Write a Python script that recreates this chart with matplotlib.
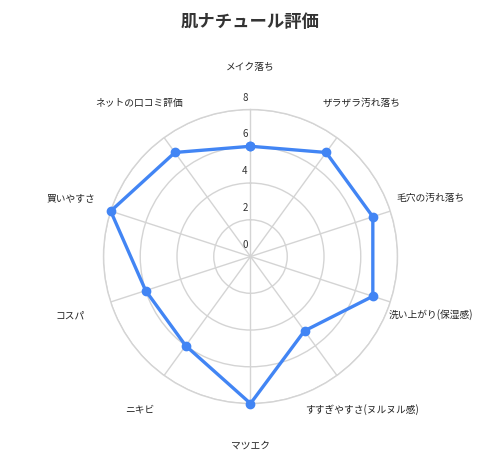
import numpy as np
import matplotlib
matplotlib.use("Agg")
import matplotlib.pyplot as plt

plt.rcParams['font.family'] = ['Noto Sans CJK JP', 'DejaVu Sans']

title = "肌ナチュール評価"
categories = ["メイク落ち", "ザラザラ汚れ落ち", "毛穴の汚れ落ち", "洗い上がり(保湿感)",
              "すすぎやすさ(ヌルヌル感)", "マツエク", "ニキビ", "コスパ",
              "買いやすさ", "ネットの口コミ評価"]
values = [6, 7, 7, 7, 5, 8, 6, 6, 8, 7]
rticks = [0, 2, 4, 6, 8]

fig = plt.figure(figsize=(5.0, 4.72), dpi=100)
ax = fig.add_axes([0.207, 0.145, 0.588, 0.623], projection='polar')
ax.set_theta_zero_location('N')
ax.set_theta_direction(-1)

n = len(categories)
angles = np.linspace(0, 2 * np.pi, n, endpoint=False)
ang_c = np.concatenate([angles, angles[:1]])
val_c = np.concatenate([values, values[:1]])

ax.set_ylim(0, max(rticks))
ax.set_xticks(angles)
ax.set_xticklabels([])
ax.set_yticks(rticks)
ax.set_yticklabels([])
ax.tick_params(length=0)
ax.grid(True, color='#d4d4d4', linewidth=1.0)
ax.spines['polar'].set_color('#d4d4d4')
ax.spines['polar'].set_linewidth(1.0)

ax.plot(ang_c, val_c, color='#4285F4', linewidth=2.4, marker='o', markersize=6,
        solid_joinstyle='round', zorder=5, clip_on=False)

for a, lab in zip(angles, categories):
    ax.text(a, 10.3, lab, ha='center', va='center', fontsize=7, color='#222222')

for t in rticks:
    ax.annotate(str(t), xy=(0, t), xytext=(-4, 5), textcoords='offset points',
                ha='center', va='bottom', fontsize=7, color='#333333')

fig.text(0.5, 1 - 22 / 472, title, ha='center', va='center', fontsize=12.5,
         fontweight='bold', color='#333333')

fig.savefig("out.png", dpi=100, facecolor='white')
